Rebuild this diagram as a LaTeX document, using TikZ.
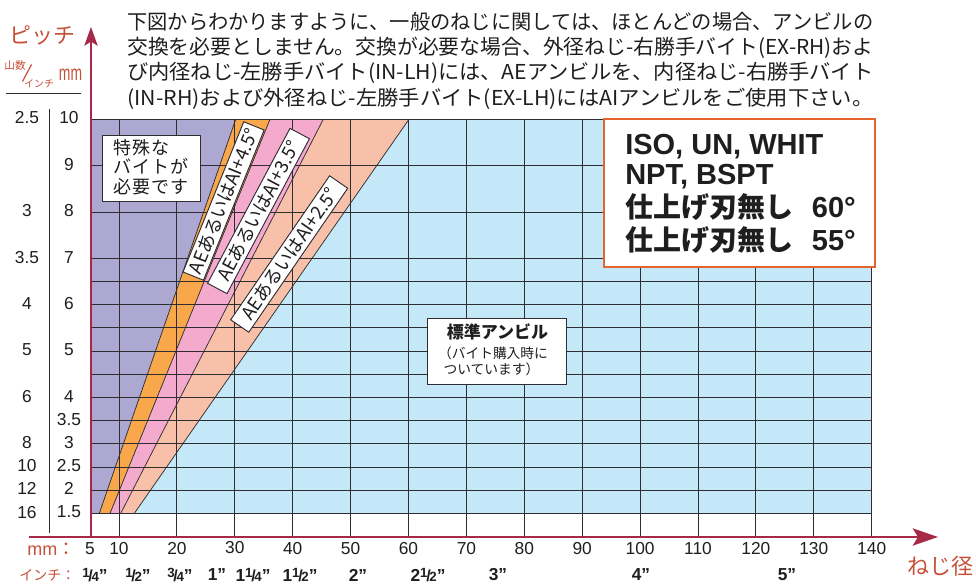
\documentclass[tikz,border=0pt]{standalone}
\usepackage{fontspec}
\usepackage{graphicx}
\setmainfont{Liberation Sans}
\newfontfamily\jp{Noto Sans CJK JP}
\newfontfamily\jpsp[LetterSpace=6]{Noto Sans CJK JP}
\usetikzlibrary{arrows.meta}
\definecolor{purpc}{RGB}{173,168,210}
\definecolor{orgc}{RGB}{248,168,74}
\definecolor{pinkc}{RGB}{244,170,204}
\definecolor{salc}{RGB}{248,192,168}
\definecolor{bluec}{RGB}{197,232,248}
\definecolor{gridc}{RGB}{45,45,50}
\definecolor{axisc}{RGB}{168,40,72}
\definecolor{labc}{RGB}{198,80,56}
\definecolor{isoc}{RGB}{230,100,45}
\definecolor{txtc}{RGB}{30,30,30}
\newcommand\fracx[2]{\raisebox{2.6pt}{\fontsize{10pt}{10pt}\selectfont #1}\kern-1pt{\fontsize{12pt}{12pt}\selectfont/}\kern-1pt{\fontsize{10pt}{10pt}\selectfont #2}}
\begin{document}
\begin{tikzpicture}[x=0.75pt,y=-0.75pt,
  gridl/.style={draw=gridc,line width=0.7pt},
  bandl/.style={draw=gridc,line width=0.55pt},
  axisl/.style={draw=axisc,line width=1.2pt},
  num/.style={font=\fontsize{13pt}{13pt}\selectfont, text=txtc, inner sep=0},
  fracl/.style={font=\bfseries\fontsize{13pt}{13pt}\selectfont, text=txtc, inner sep=0},
  redlab/.style={text=labc, inner sep=0},
  anglebox/.style={draw=gridc, line width=0.7pt, fill=white, inner sep=0, minimum height=16.5pt, font=\jp\fontsize{13.8pt}{14pt}\selectfont, text=txtc},
  para/.style={anchor=base west, inner sep=0, font=\jp\fontsize{15.4pt}{18pt}\selectfont, text=txtc},
  whitebox/.style={draw=gridc, line width=0.7pt, fill=white, inner sep=0},
  isotxt/.style={anchor=base west, inner sep=0, text=txtc},
]
\useasboundingbox (0,0) rectangle (976,585);

% paragraph
\node[para] (p1) at (127,30) {\resizebox{559.5pt}{\height}{下図からわかりますように、一般のねじに関しては、ほとんどの場合、アンビルの}};
\node[para] (p2) at (127,55) {\resizebox{559.5pt}{\height}{交換を必要としません。交換が必要な場合、外径ねじ-右勝手バイト(EX-RH)およ}};
\node[para] (p3) at (127,80) {\resizebox{559.5pt}{\height}{び内径ねじ-左勝手バイト(IN-LH)には、AEアンビルを、内径ねじ-右勝手バイト}};
\node[para] (p4) at (127,105) {\resizebox{559.5pt}{\height}{(IN-RH)および外径ねじ-左勝手バイト(EX-LH)にはAIアンビルをご使用下さい。}};

% regions
\fill[bluec] (91,119.3) rectangle (872,513.4);
\fill[salc] (91,119.3) -- (409,119.3) -- (134.3,513.4) -- (91,513.4) -- cycle;
\fill[pinkc] (91,119.3) -- (323.3,119.3) -- (120.7,513.4) -- (91,513.4) -- cycle;
\fill[orgc] (91,119.3) -- (270,119.3) -- (110,513.4) -- (91,513.4) -- cycle;
\fill[purpc] (91,119.3) -- (235.7,119.3) -- (99.3,513.4) -- (91,513.4) -- cycle;
\draw[bandl] (99.3,513.4) -- (235.7,119.3);
\draw[bandl] (110,513.4) -- (270,119.3);
\draw[bandl] (120.7,513.4) -- (323.3,119.3);
\draw[bandl] (134.3,513.4) -- (409,119.3);

% grid
\foreach \k in {0,2,4,6,7,8,9,10,11,12,13,14,15,16,17}
  \draw[gridl] (91,{119.3+\k*23.18}) -- (872,{119.3+\k*23.18});
\foreach \d in {10,20,...,140}
  \draw[gridl] ({119+(\d-10)*5.79},119.3) -- ({119+(\d-10)*5.79},537);

% axes
\draw[axisl,-{Stealth[length=19pt,width=13pt,inset=4pt]}] (29,537) -- (938,537);
\draw[axisl,-{Stealth[length=14pt,width=10pt,inset=3pt]}] (91,537) -- (91,27);

% left header
\node[redlab, font=\jp\fontsize{16.5pt}{17pt}\selectfont] (pitch) at (42,35) {ピッチ};
\node[redlab, font=\jp\fontsize{8pt}{8pt}\selectfont] (yama) at (15,65) {山数};
\draw[labc, line width=0.9pt] (22.5,81.5) -- (31.5,64.5);
\node[redlab, font=\jp\fontsize{7.5pt}{8pt}\selectfont] (inchh) at (39,84) {インチ};
\node[redlab, font=\fontsize{16pt}{16pt}\selectfont] (mmh) at (70.5,75) {\scalebox{0.65}[1]{mm}};
\draw[gridc, line width=0.7pt] (6,93) -- (81,93);
\draw[gridc, line width=0.7pt] (49.3,109) -- (49.3,533);

% y labels (mm)
\foreach \v/\k in {10/0,9/2,8/4,7/6,6/8,5/10,4/12,3.5/13,3/14,2.5/15,2/16,1.5/17}
  \node[num] (mm\k) at (69,{118+\k*23.18}) {\v};
% y labels (tpi)
\foreach \v/\k in {2.5/0,3/4,3.5/6,4/8,5/10,6/12,8/14,10/15,12/16,16/17}
  \node[num] (tpi\k) at (27,{118+\k*23.18}) {\v};

% x labels
\node[num] (x5) at (90,549) {5};
\foreach \d in {10,20,40,50,...,140}
  \node[num] (x\d) at ({119+(\d-10)*5.79},549) {\d};
\node[num] (x30) at ({119+20*5.79},547.5) {30};
\node[redlab, anchor=west, font=\fontsize{13.5pt}{14pt}\selectfont] (mmb) at (27,549) {mm{\jp ：}};
\node[redlab, anchor=west, font=\jp\fontsize{10.5pt}{11pt}\selectfont] (inchb) at (19,575) {インチ：};
\node[fracl] (f1) at (95,575) {\fracx14”};
\node[fracl] (f2) at (138,575) {\fracx12”};
\node[fracl] (f3) at (180,575) {\fracx34”};
\node[fracl] (f4) at (217,575) {1”};
\node[fracl] (f5) at (253,575) {1\fracx14”};
\node[fracl] (f6) at (300,575) {1\fracx12”};
\node[fracl] (f7) at (358,575) {2”};
\node[fracl] (f8) at (428,575) {2\fracx12”};
\node[fracl] (f9) at (498,575) {3”};
\node[fracl] (f10) at (641,575) {4”};
\node[fracl] (f11) at (787,575) {5”};
\node[redlab, font=\jp\fontsize{16.5pt}{17pt}\selectfont] (dia) at (940,566) {ねじ径};

% special box
\draw[whitebox] (102,135) rectangle (200,201);
\node[anchor=north west, align=left, inner sep=0, text=txtc, font=\jpsp\fontsize{13.5pt}{14.6pt}\selectfont] (spt) at (113,139) {特殊な\\バイトが\\必要です};

% angled boxes
\node[anglebox, rotate=68, minimum width=121.5pt] (ae45) at (223.6,201) {AEあるいはAI+4.5°};
\node[anglebox, rotate=62, minimum width=131.6pt] (ae35) at (258.5,211) {AEあるいはAI+3.5°};
\node[anglebox, rotate=55.5, minimum width=131pt] (ae25) at (289.2,254) {AEあるいはAI+2.5°};

% standard box
\draw[whitebox] (427,318) rectangle (566,384);
\node[inner sep=0, text=txtc, font=\jp\bfseries\fontsize{12.75pt}{13pt}\selectfont] (std1) at (497.5,332) {標準アンビル};
\node[inner sep=0, text=txtc, font=\jp\fontsize{10.3pt}{11pt}\selectfont] (std2) at (493,353) {（バイト購入時に};
\node[inner sep=0, text=txtc, font=\jp\fontsize{10.3pt}{11pt}\selectfont] (std3) at (491.5,369) {ついています）};

% ISO box
\node[draw=isoc, line width=2pt, fill=white, minimum width=203.25pt, minimum height=111pt, inner sep=0] (isobox) at (739.5,193) {};
\node[isotxt, font=\bfseries\fontsize{21.75pt}{22pt}\selectfont] (iso1) at (625,155) {ISO, UN, WHIT};
\node[isotxt, font=\bfseries\fontsize{21.75pt}{22pt}\selectfont] (iso2) at (625,185) {NPT, BSPT};
\node[isotxt] (iso3) at (625,218) {{\jp\bfseries\fontsize{21pt}{22pt}\selectfont 仕上げ刃無し}\hspace{14pt}{\bfseries\fontsize{21.75pt}{22pt}\selectfont 60°}};
\node[isotxt] (iso4) at (625,250) {{\jp\bfseries\fontsize{21pt}{22pt}\selectfont 仕上げ刃無し}\hspace{14pt}{\bfseries\fontsize{21.75pt}{22pt}\selectfont 55°}};
\end{tikzpicture}
\end{document}
